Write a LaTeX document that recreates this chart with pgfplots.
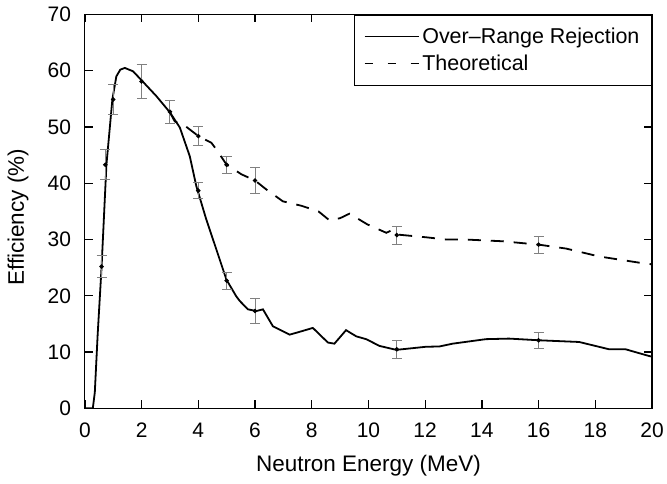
\documentclass[border=0pt]{standalone}
\usepackage{fontspec}
\setmainfont{Liberation Sans}
\usepackage{pgfplots}
\pgfplotsset{compat=1.18}
\definecolor{errgray}{gray}{0.5}
\begin{document}
\begin{tikzpicture}
\begin{axis}[
  scale only axis,
  width=568pt, height=394.5pt,
  line width=1.2pt,
  xmin=0, xmax=20, ymin=0, ymax=70,
  xtick={0,2,...,20}, ytick={0,10,...,70},
  tick align=inside,
  major tick length=8pt,
  tick style={black, line width=1.3pt},
  /pgf/number format/assume math mode=true,
  tick label style={font=\fontsize{21}{25}\selectfont},
  xticklabel style={yshift=-11pt},
  yticklabel style={xshift=-10pt},
  xlabel={Neutron Energy (MeV)},
  ylabel={Efficiency (\%)},
  every axis x label/.style={at={(axis description cs:0.5,0)}, anchor=base, yshift=-63pt, font=\fontsize{22.5}{27}\selectfont},
  every axis y label/.style={at={(axis description cs:-0.118,0.485)}, rotate=90, anchor=center, font=\fontsize{22.5}{27}\selectfont},
  legend style={at={(1,1)}, anchor=north east, draw=black, line width=1.1pt,
    font=\fontsize{21.5}{26}\selectfont, inner xsep=9pt, inner ysep=10pt,
    row sep=4pt, nodes={inner sep=3pt}},
  legend cell align=left,
  clip=true,
]
\addlegendimage{legend image code/.code={\draw[black, line width=1.6pt] (0pt,0pt) -- (54pt,0pt);}}
\addlegendimage{legend image code/.code={\draw[black, line width=1.6pt, dash pattern=on 8pt off 15pt] (0pt,0pt) -- (54pt,0pt);}}
\legend{Over--Range Rejection, Theoretical}

% Theoretical (dashed)
\addplot[forget plot, black, line width=1.8pt, dash pattern=on 13pt off 10pt] coordinates {
(3.0,52.6) (3.17,51.0) (3.56,50.1) (4.0,48.4) (4.46,47.2) (4.64,46.0) (5.0,43.3)
(5.52,41.6) (6.0,40.5) (6.4,38.9) (6.98,36.8) (7.64,36.0) (8.24,35.0) (8.63,33.4)
(9.0,33.8) (9.33,34.6) (9.96,32.7) (10.63,31.2) (10.8,31.6) (11.0,30.9) (12.04,30.4)
(12.75,30.0) (13.45,30.0) (14.72,29.7) (16.0,29.1) (16.97,28.4) (18.13,27.0)
(19.54,25.9) (20.0,25.6)
};

% Over-Range Rejection (solid)
\addplot[forget plot, black, line width=1.8pt] coordinates {
(0,0) (0.28,0) (0.35,2.8) (0.45,13) (0.59,25.2) (0.76,43.3) (0.97,54.9) (1.11,59)
(1.25,60.2) (1.41,60.5) (1.7,59.9) (2.0,58.3) (2.52,55.5) (3.0,52.6) (3.35,49.9)
(3.7,44.8) (3.93,39.5) (4.28,33.6) (4.64,28.2) (4.99,22.9) (5.34,19.9) (5.46,19.1)
(5.75,17.6) (6.05,17.3) (6.28,17.6) (6.63,14.6) (7.22,13.1) (7.57,13.6) (8.04,14.3)
(8.57,11.7) (8.8,11.5) (9.21,13.9) (9.57,12.8) (9.92,12.3) (10.39,11.1) (10.98,10.4)
(11.56,10.7) (12.03,10.95) (12.5,11.0) (12.97,11.5) (14.14,12.3) (14.96,12.4)
(16.02,12.1) (17.43,11.8) (18.49,10.5) (19.07,10.5) (19.9,9.3) (20,9.2)
};

% Error bars with data points
\addplot[forget plot, only marks, mark=*, mark size=1.6pt, black,
  error bars/.cd, y dir=both, y explicit,
  error bar style={errgray, line width=1pt},
  error mark options={rotate=90, errgray, mark size=5pt, line width=1pt}]
  table[x=x, y=y, y error=e] {
x y e
0.59 25.2 1.9
0.72 43.3 2.7
1.0 54.9 2.6
2.0 58.1 3.0
3.0 52.7 2.1
4.0 38.7 1.4
5.0 22.7 1.5
6.0 17.3 2.2
11.0 10.5 1.6
16.0 12.1 1.45
4.0 48.4 1.7
5.0 43.3 1.5
6.0 40.5 2.3
11.0 30.8 1.6
16.0 29.1 1.5
};
\end{axis}
\path[use as bounding box] ([xshift=-85pt,yshift=-75pt]current axis.south west) rectangle ([xshift=14pt,yshift=14.5pt]current axis.north east);
\end{tikzpicture}
\end{document}
